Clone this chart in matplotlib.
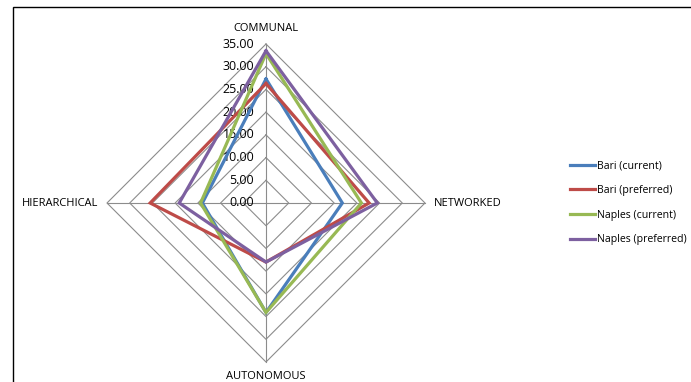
import matplotlib

matplotlib.use("Agg")

import matplotlib.pyplot as plt
import numpy as np
from matplotlib.patches import Rectangle

# axes go clockwise from the top
categories = ["COMMUNAL", "NETWORKED", "AUTONOMOUS", "HIERARCHICAL"]
series_names = ["Bari (current)", "Bari (preferred)", "Naples (current)", "Naples (preferred)"]
bari_current = [27.3, 16.8, 24.1, 14.0]
bari_preferred = [26.3, 22.7, 13.0, 25.5]
naples_current = [32.9, 21.0, 24.1, 14.4]
naples_preferred = [33.5, 24.5, 13.0, 19.1]
ticks = [0, 5, 10, 15, 20, 25, 30, 35]

colors = ["#4A7EBB", "#BE4B48", "#98B954", "#7D60A0"]
grid_color = "#8C8C8C"
rmax = 35

plt.rcParams["font.family"] = ["Open Sans", "DejaVu Sans"]

W, H = 691, 382
fig = plt.figure(figsize=(W / 100, H / 100), dpi=100)

# chart frame (cut by the image edge on right and bottom)
fig.patches.append(Rectangle((13 / W, -0.05), 1.0, (H - 7) / H + 0.05,
                             transform=fig.transFigure, fill=False,
                             edgecolor="black", linewidth=1.0))

cx, cy, rad = 266, 203, 159
ax = fig.add_axes([(cx - rad) / W, (H - cy - rad) / H, 2 * rad / W, 2 * rad / H])
ax.set_xlim(-rmax, rmax)
ax.set_ylim(-rmax, rmax)
ax.set_aspect("equal")
ax.axis("off")

angles = np.linspace(0, 2 * np.pi, len(categories), endpoint=False)
sx, sy = np.sin(angles), np.cos(angles)

# polygon grid
for t in ticks[1:]:
    ax.plot(np.append(sx, sx[0]) * t, np.append(sy, sy[0]) * t,
            color=grid_color, linewidth=0.8, zorder=1, clip_on=False)
for x, y in zip(sx, sy):
    ax.plot([0, x * rmax], [0, y * rmax], color=grid_color, linewidth=0.8,
            zorder=1, clip_on=False)

# tick labels along the top spoke
for t in ticks:
    ax.text(-2.6, t, f"{t:.2f}", ha="right", va="center", fontsize=9,
            color="black")

series = [bari_current, bari_preferred, naples_current, naples_preferred]
for name, vals, col in zip(series_names, series, colors):
    v = np.array(vals + vals[:1])
    ax.plot(np.append(sx, sx[0]) * v, np.append(sy, sy[0]) * v, color=col,
            linewidth=2.3, label=name, zorder=3, clip_on=False,
            solid_joinstyle="miter")

# category labels
ax.text(0, rmax + 3.5, categories[0], ha="center", va="center", fontsize=8)
ax.text(rmax + 2.0, 0, categories[1], ha="left", va="center", fontsize=8)
ax.text(0, -rmax - 3.3, categories[2], ha="center", va="center", fontsize=8)
ax.text(-rmax - 2.0, 0, categories[3], ha="right", va="center", fontsize=8)

fig.legend(loc="upper left", bbox_to_anchor=(566 / W, 1 - 156 / H),
           frameon=False, fontsize=7.6, handlelength=2.3, handletextpad=0.25,
           labelspacing=1.3, borderaxespad=0)

fig.savefig("out.png", dpi=100)
